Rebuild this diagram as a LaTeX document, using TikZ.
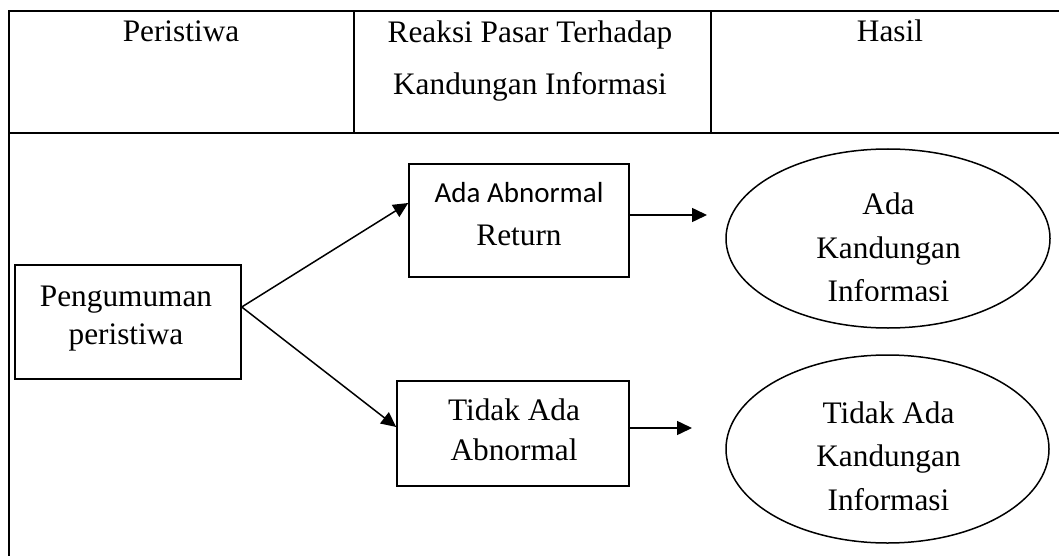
\documentclass[tikz,border=0pt]{standalone}
\usepackage{fontspec}
\setmainfont{Liberation Serif}
\newfontfamily\calibri{Carlito}
\usetikzlibrary{arrows.meta,calc,shapes.geometric}
\begin{document}
\begin{tikzpicture}[x=1pt,y=-1pt,
  tbl/.style={line width=2.2pt},
  boxnode/.style={draw,line width=1.5pt,rectangle,inner sep=0pt},
  ovalnode/.style={draw,line width=1.5pt,ellipse,inner sep=0pt},
  txt/.style={align=center,inner sep=0pt,font=\fontsize{31.3}{43.5}\selectfont},
  arr/.style={line width=1.5pt,-{Triangle[length=15pt,width=14pt]}}]
\useasboundingbox (0,0) rectangle (1059,556);
% table
\draw[tbl] (9,556) -- (9,11) -- (1062,11);
\draw[tbl] (9,133) -- (1062,133);
\draw[tbl] (354,11) -- (354,133);
\draw[tbl] (711,11) -- (711,133);
% header
\node[txt,anchor=base] (h1) at (181,42) {Peristiwa};
\node[txt,font=\fontsize{31.3}{52}\selectfont] (h2) at (530,60.7) {Reaksi Pasar Terhadap\\Kandungan Informasi};
\node[txt,anchor=base] (h3) at (890,42) {Hasil};
% shapes
\node[boxnode,minimum width=226pt,minimum height=114pt] (peng) at (128,322) {};
\node[boxnode,minimum width=220pt,minimum height=113pt] (ada) at (519,220.5) {};
\node[boxnode,minimum width=232pt,minimum height=105pt] (tidak) at (513,433.5) {};
\node[ovalnode,minimum width=324pt,minimum height=179pt] (oval1) at (888,238.5) {};
\node[ovalnode,minimum width=323pt,minimum height=188pt] (oval2) at (887.5,449) {};
% texts
\node[txt,font=\fontsize{31.3}{38}\selectfont] (pengt) at (126,319) {Pengumuman\\peristiwa};
\node[txt,font=\fontsize{31.3}{43}\selectfont] (adat) at (519,214.4) {{\calibri\fontsize{29}{43}\selectfont Ada Abnormal}\\Return};
\node[txt,font=\fontsize{31.3}{40}\selectfont] (tidakt) at (514,430) {Tidak Ada\\Abnormal};
\begin{scope}
\clip (700,140) rectangle (1059,300.5);
\node[txt] (oval1t) at (888.5,247.5) {Ada\\Kandungan\\Informasi};
\end{scope}
\node[txt] (oval2t) at (888.5,455.8) {Tidak Ada\\Kandungan\\Informasi};
% connectors
\coordinate (e1) at (707,215);
\coordinate (e2) at (692,428);
\draw[arr] ([yshift=15pt]peng.east) -- ([yshift=17.5pt]ada.west);
\draw[arr] ([yshift=15pt]peng.east) -- ([yshift=6.5pt]tidak.west);
\draw[arr] ([yshift=5.5pt]ada.east) -- (e1);
\draw[arr] ([yshift=5.5pt]tidak.east) -- (e2);
\end{tikzpicture}
\end{document}
